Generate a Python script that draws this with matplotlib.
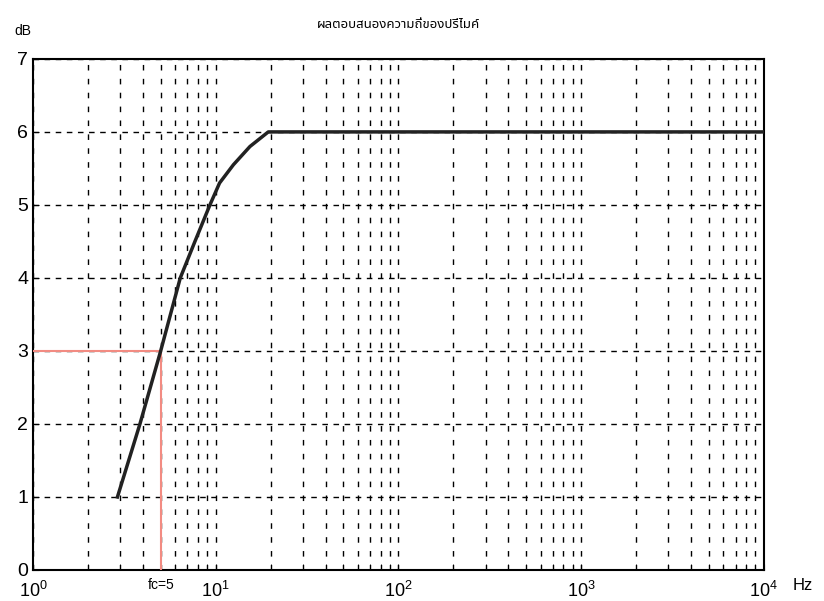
import numpy as np
import matplotlib.pyplot as plt
from matplotlib.ticker import LogLocator, NullFormatter

# ข้อมูลที่อ่านจากกราฟ
freq_hz = [2.9, 3.85, 5.0, 6.4, 7.7, 9.3, 10.5, 12.5, 15.4, 19.4, 10000.0]
gain_db = [1.0, 2.0, 3.0, 4.0, 4.5, 5.0, 5.3, 5.55, 5.8, 6.0, 6.0]
fc = 5.0
fc_db = 3.0
title_text = 'ผลตอบสนองความถี่ของปรีไมค์'

plt.rcParams['font.family'] = ['Liberation Sans', 'DejaVu Sans']

fig = plt.figure(figsize=(8.24, 6.01), dpi=100)
ax = fig.add_axes([0.040, 0.0516, 0.887, 0.8504])

ax.set_xscale('log')
ax.set_xlim(1, 1e4)
ax.set_ylim(0, 7)

# เส้นกริด
ax.xaxis.set_major_locator(LogLocator(base=10, numticks=10))
ax.xaxis.set_minor_locator(LogLocator(base=10, subs=np.arange(2, 10), numticks=100))
ax.xaxis.set_minor_formatter(NullFormatter())
ax.set_yticks(range(0, 8))
ax.grid(True, which='both', axis='x', color='black', linestyle=(0, (4, 6)), linewidth=1.0)
ax.grid(True, which='major', axis='y', color='black', linestyle=(0, (4, 4)), linewidth=1.0)

# เส้นบอก fc
ax.plot([1, fc], [fc_db, fc_db], color='#f28b82', linewidth=1.5, zorder=3)
ax.plot([fc, fc], [0, fc_db], color='#f28b82', linewidth=1.5, zorder=3)

# กราฟผลตอบสนอง
ax.plot(freq_hz, gain_db, color='#222222', linewidth=2.5, zorder=4,
        solid_joinstyle='round')

for s in ax.spines.values():
    s.set_linewidth(1.5)
ax.tick_params(which='both', direction='in', labelsize=13, length=4)
ax.tick_params(axis='y', labelsize=14)
ax.tick_params(axis='x', pad=8)

ax.text(fc, -0.015, 'fc=5', transform=ax.get_xaxis_transform(), ha='center', va='top', fontsize=10)
ax.text(-0.025, 1.04, 'dB', transform=ax.transAxes, ha='left', va='bottom', fontsize=10)
ax.text(1.04, -0.015, 'Hz', transform=ax.transAxes, ha='left', va='top', fontsize=12)
ax.set_title(title_text, fontsize=9.5, pad=22, fontweight='bold',
             family=['Noto Sans Thai', 'Loma', 'Garuda', 'Tlwg Typo', 'DejaVu Sans'])

plt.savefig('out.png', dpi=100)
